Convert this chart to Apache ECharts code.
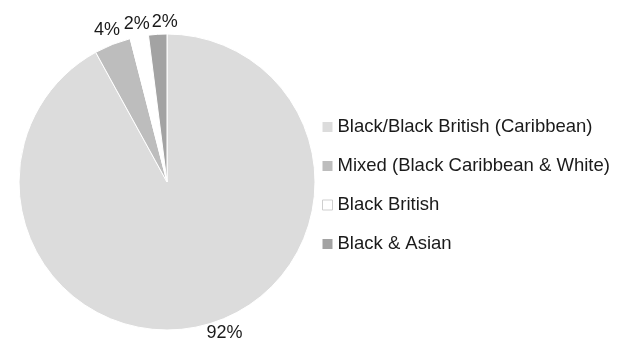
<!DOCTYPE html>
<html>
<head>
<meta charset="utf-8">
<script src="https://cdn.jsdelivr.net/npm/echarts@6/dist/echarts.min.js"></script>
<style>
  html, body { margin: 0; padding: 0; background: #fff; }
  #chart { width: 617px; height: 341px; }
</style>
</head>
<body>
<div id="chart"></div>
<script>
var categories = ['Black/Black British (Caribbean)', 'Mixed (Black Caribbean & White)', 'Black British', 'Black & Asian'];
var values = [92, 4, 2, 2];
var colors = ['#dcdcdc', '#bdbdbd', '#ffffff', '#a3a3a3'];

var CENTER = [167, 182];
var RADIUS = 148;
var HEIGHT = 341;
var LABEL_SIZE = 18;

try {
    var chart = echarts.init(document.getElementById('chart'));
    var total = values.reduce(function (a, b) { return a + b; }, 0);

    var pieData = categories.map(function (name, i) {
        return { name: name, value: values[i], itemStyle: { color: colors[i] } };
    });
    var legendData = categories.map(function (name, i) {
        var item = { name: name };
        item.itemStyle = colors[i] === '#ffffff'
            ? { borderColor: '#cfcfcf', borderWidth: 1 }
            : { borderWidth: 0 };
        return item;
    });

    // place labels like the office "outside end" labels: box just clear of the rim,
    // kept inside the canvas, no overlap with the previous label
    var prevBox = null;
    function placeLabel(params) {
        var i = params.dataIndex;
        var before = 0;
        for (var k = 0; k < i; k++) before += values[k];
        var frac = (before + values[i] / 2) / total;
        var ang = frac * Math.PI * 2; // clockwise from 12 o'clock
        var ux = Math.sin(ang), uy = -Math.cos(ang);
        var w = params.labelRect.width, h = params.labelRect.height;
        var glyphHalf = LABEL_SIZE * 0.37;
        var gap = 2;
        var ext = Math.abs(ux) * w / 2 + Math.abs(uy) * h / 2;
        var cx = CENTER[0] + ux * (RADIUS + gap + ext);
        var cy = CENTER[1] + uy * (RADIUS + gap + ext);
        // keep the glyphs inside the canvas
        cy = Math.min(cy, HEIGHT - glyphHalf - 1);
        cy = Math.max(cy, glyphHalf + 1);
        // push outward if the nearest glyph corner falls inside the circle
        var cornerY = cy - (uy > 0 ? glyphHalf : -glyphHalf);
        var dy = cornerY - CENTER[1];
        var rr = RADIUS + gap;
        if (Math.abs(dy) < rr) {
            var need = Math.sqrt(rr * rr - dy * dy);
            var cornerX = cx - (ux > 0 ? w / 2 : -w / 2);
            if (Math.abs(cornerX - CENTER[0]) < need) {
                cx = CENTER[0] + (ux > 0 ? need + w / 2 : -need - w / 2);
            }
        }
        if (i === 0) prevBox = null;
        if (prevBox && Math.abs(cy - prevBox.y) < (h + prevBox.h) / 2 &&
            cx - w / 2 < prevBox.x + prevBox.w / 2 + 2 && cx > prevBox.x) {
            cx = prevBox.x + prevBox.w / 2 + 2 + w / 2;
        }
        prevBox = { x: cx, y: cy, w: w, h: h };
        return { x: cx, y: cy, align: 'center', verticalAlign: 'middle', hideOverlap: false };
    }

    var option = {
        animation: false,
        textStyle: { fontFamily: 'Liberation Sans, Arial, sans-serif' },
        legend: {
            orient: 'vertical',
            left: 322,
            top: 117.5,
            padding: 0,
            itemWidth: 10,
            itemHeight: 10,
            itemGap: 20,
            icon: 'rect',
            textStyle: { fontSize: 18.5, color: '#1a1a1a' },
            data: legendData
        },
        series: [{
            type: 'pie',
            center: CENTER,
            radius: RADIUS,
            startAngle: 90,
            clockwise: true,
            avoidLabelOverlap: false,
            itemStyle: { borderColor: '#fff', borderWidth: 1 },
            label: {
                show: true,
                position: 'outside',
                formatter: '{c}%',
                fontSize: LABEL_SIZE,
                color: '#1a1a1a'
            },
            labelLine: { show: false },
            labelLayout: placeLabel,
            emphasis: { disabled: true },
            data: pieData
        }]
    };
    chart.setOption(option);
} catch (error) {
    console.error('Failed to draw chart');
    console.error(error);
}
</script>
</body>
</html>
